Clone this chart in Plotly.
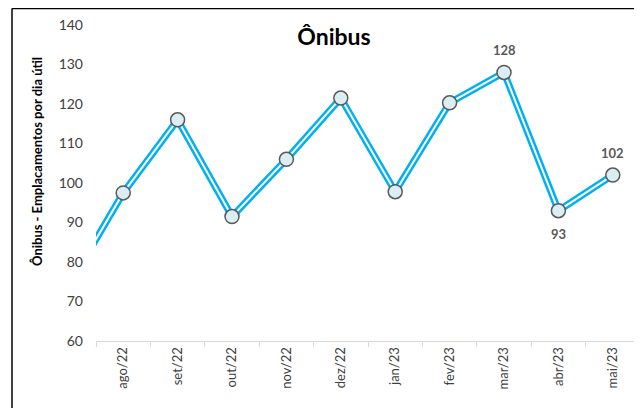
import plotly.graph_objects as go

categories = ["jul/22", "ago/22", "set/22", "out/22", "nov/22", "dez/22",
              "jan/23", "fev/23", "mar/23", "abr/23", "mai/23"]
values = [74, 97.5, 116, 91.5, 106, 121.5, 97.8, 120.3, 128, 93, 102]
label_text = ["", "", "", "", "", "", "", "", "128", "93", "102"]
label_shift = [0, 0, 0, 0, 0, 0, 0, 0, 22, -23, 22]

title_text = "Ônibus"
y_title = "Ônibus - Emplacamentos por dia útil"
y_ticks = [60, 70, 80, 90, 100, 110, 120, 130, 140]

FONT = "Lato, 'Open Sans', sans-serif"
BLUE = "#00B0F0"

# page has an 8px body margin: figure origin is at page (8, 8)
W, H = 634, 400
ML, MR, MT, MB = 88, 2, 17, 67
PW = W - ML - MR
PH = H - MT - MB


def px_x(page_x):
    return (page_x - 8 - ML) / PW


def px_y(page_y):
    return 1 - (page_y - 8 - MT) / PH


fig = go.Figure()
fig.add_trace(go.Scatter(x=categories, y=values, mode="lines",
                         line=dict(color=BLUE, width=7), hoverinfo="skip",
                         showlegend=False))
fig.add_trace(go.Scatter(x=categories, y=values, mode="lines+markers",
                         line=dict(color="white", width=2),
                         marker=dict(size=14, color="#DAEEF3",
                                     line=dict(color="#595959", width=1.5)),
                         showlegend=False))

annotations = []
for c, v, t, s in zip(categories, values, label_text, label_shift):
    if t:
        annotations.append(dict(x=c, y=v, text=t, showarrow=False,
                                yshift=s, xanchor="center", yanchor="middle",
                                font=dict(family=FONT, size=13, color="#595959",
                                          weight="bold")))
annotations.append(dict(xref="paper", yref="paper", x=px_x(37), y=px_y(162),
                        text=y_title, textangle=-90, showarrow=False,
                        xanchor="center", yanchor="middle",
                        font=dict(family=FONT, size=13, color="black",
                                  weight="bold")))

fig.update_layout(
    width=W, height=H,
    margin=dict(l=ML, r=MR, t=MT, b=MB),
    paper_bgcolor="white", plot_bgcolor="white",
    font=dict(family=FONT, color="#595959"),
    title=dict(text=title_text, x=(334 - 8) / W, xanchor="center",
               y=1 - (37 - 8) / H, yanchor="middle",
               font=dict(family=FONT, size=23, color="black", weight="bold")),
    xaxis=dict(type="category", range=[0.5, 10.5], tickson="boundaries",
               ticks="outside", ticklen=5, tickcolor="#D9D9D9",
               showline=True, linecolor="#D9D9D9", linewidth=1,
               showgrid=False, tickangle=-90,
               tickfont=dict(family=FONT, size=13, color="#404040"),
               zeroline=False),
    yaxis=dict(range=[60, 140], tickvals=y_ticks, showgrid=False,
               showline=False, zeroline=False, ticks="",
               ticklabelstandoff=12,
               tickfont=dict(family=FONT, size=14, color="#404040")),
    annotations=annotations,
    shapes=[
        dict(type="line", xref="paper", yref="paper",
             x0=px_x(12), x1=px_x(12), y0=px_y(8.5), y1=-0.3,
             line=dict(color="black", width=1.5)),
        dict(type="line", xref="paper", yref="paper",
             x0=px_x(12), x1=1.1, y0=px_y(8.5), y1=px_y(8.5),
             line=dict(color="black", width=1.5)),
    ],
)

fig.write_html("out.html")
